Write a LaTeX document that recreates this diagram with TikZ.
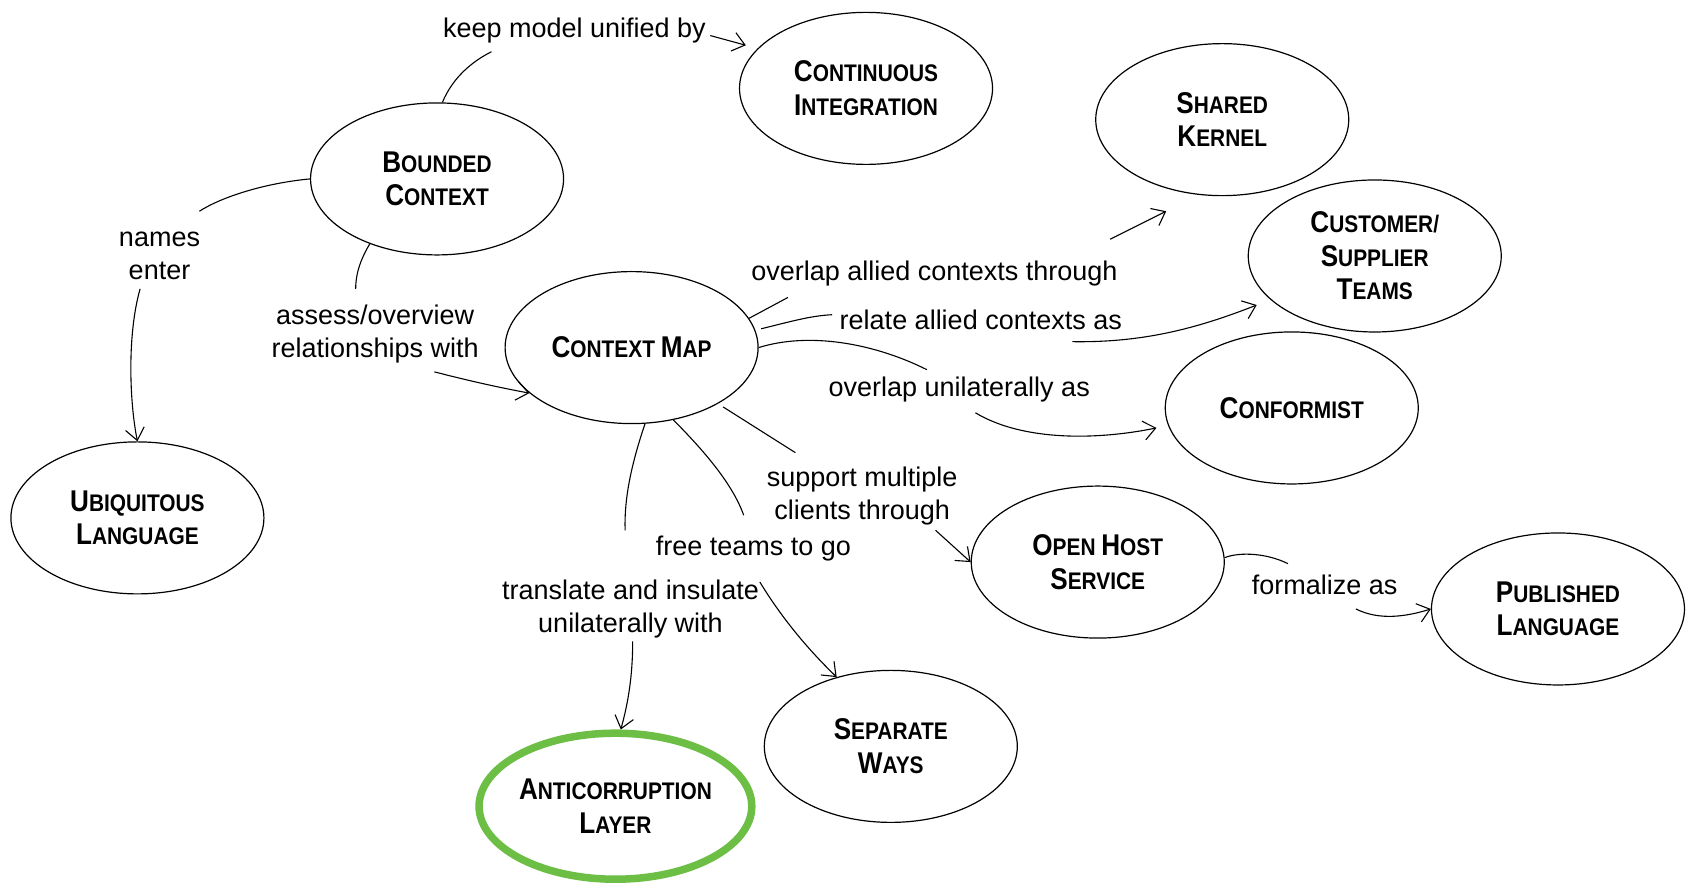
\documentclass[tikz,border=0pt]{standalone}
\usepackage{fontspec}
\usetikzlibrary{arrows.meta,shapes.geometric}
\newfontfamily\capsfont{Liberation Sans Bold}[FakeStretch=0.87]
\newfontfamily\lblfont{Liberation Sans}
% large initial letter of a small-caps word
\newcommand\capL[1]{{\fontsize{30}{33.5}\selectfont #1}}
\definecolor{aclgreen}{RGB}{108,190,69}

\begin{document}
\begin{tikzpicture}[x=1.0778pt,y=-1.0778pt,
  concept/.style={ellipse, draw, line width=1.2pt, minimum width=253pt,
    minimum height=152pt, inner sep=0pt, align=center,
    font=\capsfont\fontsize{24}{33.5}\selectfont},
  rel/.style={font=\lblfont\fontsize{27}{33}\selectfont, align=center, inner sep=1pt},
  link/.style={line width=1.1pt},
  arr/.style={link, -{Straight Barb[length=12pt,width=19pt]}}]

\fill[white] (0,0) rectangle (1568,821);
\useasboundingbox (0,0) rectangle (1568,821);

% concepts
\node[concept] (bc)  at (405.5,166) {\capL{B}OUNDED\\\capL{C}ONTEXT};
\node[concept] (ci)  at (803.5,82)  {\capL{C}ONTINUOUS\\\capL{I}NTEGRATION};
\node[concept] (sk)  at (1134,111)  {\capL{S}HARED\\\capL{K}ERNEL};
\node[concept] (cst) at (1275.5,237.5) {\capL{C}USTOMER/\\\capL{S}UPPLIER\\\capL{T}EAMS};
\node[concept] (cf)  at (1198.5,378.5) {\capL{C}ONFORMIST};
\node[concept] (cm)  at (586,322.5) {\capL{C}ONTEXT \capL{M}AP};
\node[concept] (ul)  at (127.5,480.5) {\capL{U}BIQUITOUS\\\capL{L}ANGUAGE};
\node[concept] (ohs) at (1018.5,521.5) {\capL{O}PEN \capL{H}OST\\\capL{S}ERVICE};
\node[concept] (pl)  at (1445.5,565) {\capL{P}UBLISHED\\\capL{L}ANGUAGE};
\node[concept] (sw)  at (826.5,692.5) {\capL{S}EPARATE\\\capL{W}AYS};
\node[concept, draw=aclgreen, line width=7.5pt, minimum width=269pt,
      minimum height=146pt] (acl) at (571,748) {\capL{A}NTICORRUPTION\\\capL{L}AYER};

% relationship labels
\node[rel] (l1)  at (533,28)   {keep model unified by};
\node[rel] (l2)  at (148,237)  {names\\enter};
\node[rel] (l3)  at (348,310)  {assess/overview\\relationships with};
\node[rel] (l4)  at (867,254)  {overlap allied contexts through};
\node[rel] (l5)  at (910,297)  {relate allied contexts as};
\node[rel] (l6)  at (890,361)  {overlap unilaterally as};
\node[rel] (l7)  at (800,460)  {support multiple\\clients through};
\node[rel] (l8)  at (699,509)  {free teams to go};
\node[rel] (l9)  at (585,565)  {translate and insulate\\unilaterally with};
\node[rel] (l10) at (1229,543) {formalize as};

% free ends of the connectors
\coordinate (k1a) at (456,48);   \coordinate (k1b) at (659,33);  \coordinate (t1) at (692,42);
\coordinate (k2a) at (185,196);  \coordinate (k2b) at (130,268);
\coordinate (k3a) at (330,268);  \coordinate (k3b) at (403,345);
\coordinate (k4a) at (731,276);  \coordinate (k4b) at (1030,222); \coordinate (t4) at (1082,196);
\coordinate (k5a) at (772,292);  \coordinate (k5b) at (995,317);  \coordinate (t5) at (1166,283);
\coordinate (k6a) at (860,343);  \coordinate (k6b) at (905,383);  \coordinate (t6) at (1073,397);
\coordinate (k7a) at (738,420);  \coordinate (k7b) at (868,492);
\coordinate (k8a) at (690,478);  \coordinate (k8b) at (705,540);
\coordinate (k9a) at (580,492);  \coordinate (k9b) at (587,595);
\coordinate (k10a) at (1195,523); \coordinate (k10b) at (1258,565);

% bounded context -> continuous integration
\draw[link] (bc.86) .. controls (420,72) and (438,57) .. (k1a);
\draw[arr] (k1b) -- (t1);
% bounded context -> ubiquitous language
\draw[link] (bc.180) .. controls (245,170) and (205,183) .. (k2a);
\draw[arr] (k2b) .. controls (118,310) and (120,372) .. (ul.north);
% bounded context -> context map
\draw[link] (bc.224) .. controls (336,238) and (330,252) .. (k3a);
\draw[arr] (k3b) .. controls (430,352) and (460,359) .. (cm.204);
% context map -> shared kernel
\draw[link] (cm.14) -- (k4a);
\draw[arr] (k4b) -- (t4);
% context map -> customer/supplier teams
\draw[link, shorten <=6pt] (cm.8) .. controls (735,298) and (752,293) .. (k5a);
\draw[arr] (k5b) .. controls (1060,318) and (1110,305) .. (t5);
% context map -> conformist
\draw[link] (cm.0) .. controls (750,308) and (810,318) .. (k6a);
\draw[arr] (k6b) .. controls (950,410) and (1020,408) .. (t6);
% context map -> open host service
\draw[link, shorten <=6pt] (cm.-33) -- (k7a);
\draw[arr] (k7b) -- (ohs.180);
% context map -> separate ways
\draw[link] (cm.-60) .. controls (655,420) and (680,450) .. (k8a);
\draw[arr] (k8b) .. controls (722,568) and (745,598) .. (sw.128);
% context map -> anticorruption layer
\draw[link] (cm.-80) .. controls (586,430) and (579,462) .. (k9a);
\draw[arr] (k9b) .. controls (587,630) and (582,655) .. (acl.86);
% open host service -> published language
\draw[link] (ohs.2) .. controls (1150,512) and (1175,513) .. (k10a);
\draw[arr] (k10b) .. controls (1280,576) and (1305,572) .. (pl.180);
\end{tikzpicture}
\end{document}
